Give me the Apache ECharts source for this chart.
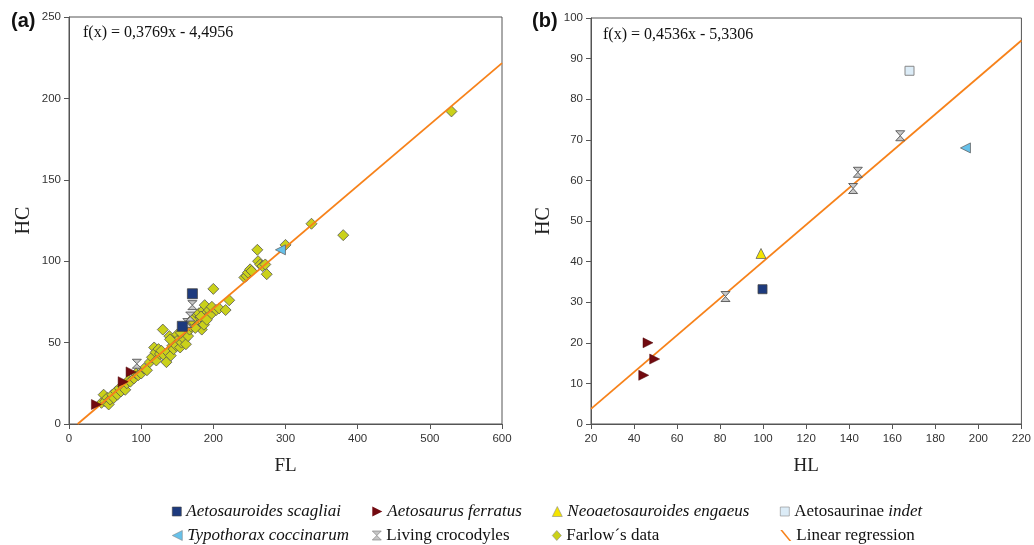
<!DOCTYPE html>
<html>
<head>
<meta charset="utf-8">
<script src="https://cdn.jsdelivr.net/npm/echarts@6/dist/echarts.min.js"></script>
<style>html,body{margin:0;padding:0;background:#fff}#c{width:1034px;height:545px}</style>
</head>
<body>
<div id="c"></div>
<script>
// ---- Panel (a): FL vs HC ----
const farlowFL = [45,48,50,53,55,57,60,62,65,67,70,72,75,78,80,83,85,90,93,96,100,104,108,112,115,118,120,121,124,126,128,130,132,135,137,139,141,143,145,147,149,150,152,154,156,158,160,162,163,165,167,169,172,174,176,178,180,182,184,185,186,188,190,192,194,196,198,200,204,208,217,222,243,246,248,251,253,261,262,265,268,272,274,300,336,380,530,140,155,170,175,183,187,191];
const farlowHC = [13,18,14,16,12,15,18,16,20,18,22,20,23,21,25,27,26,28,31,30,31,34,33,38,41,47,44,39,46,43,45,58,42,38,44,54,42,48,46,50,48,55,52,47,50,54,52,49,56,54,58,60,62,60,66,64,68,65,58,63,70,73,68,66,70,67,72,83,70,71,70,76,90,91,93,95,94,107,100,98,97,98,92,110,123,116,192,52,56,64,59,66,61,64];
const scagliaiA_FL = [157,171];
const scagliaiA_HC = [60,80];
const ferratusA_FL = [38,75,86];
const ferratusA_HC = [12,26,32];
const typothoraxA_FL = [293];
const typothoraxA_HC = [107];
const crocA_FL = [94,164,168,171];
const crocA_HC = [37,62,66,73];
const regA = [0.3769, -4.4956]; // slope, intercept
const xTicksA = [0,100,200,300,400,500,600];
const yTicksA = [0,50,100,150,200,250];

// ---- Panel (b): HL vs HC ----
const scagliaiB_HL = [99.7];
const scagliaiB_HC = [33.2];
const ferratusB_HL = [46.5,49.6,44.5];
const ferratusB_HC = [20,16,12];
const engaeusB_HL = [99];
const engaeusB_HC = [42];
const indetB_HL = [168];
const indetB_HC = [87];
const typothoraxB_HL = [194];
const typothoraxB_HC = [68];
const crocB_HL = [82.5,141.8,144,163.7];
const crocB_HC = [31.4,58,62,71];
const regB = [0.4536, -5.3306];
const xTicksB = [20,40,60,80,100,120,140,160,180,200,220];
const yTicksB = [0,10,20,30,40,50,60,70,80,90,100];

const zip = (a,b) => a.map((v,i)=>[v,b[i]]);

const SERIF = '"Liberation Serif", "DejaVu Serif", serif';
const SANS = '"Liberation Sans", Arial, sans-serif';

const N = {
  scag: 'Aetosauroides scagliai',
  ferr: 'Aetosaurus ferratus',
  enga: 'Neoaetosauroides engaeus',
  indet: 'Aetosaurinae indet',
  typo: 'Typothorax coccinarum',
  croc: 'Living crocodyles',
  farl: 'Farlow´s data',
  reg: 'Linear regression'
};
const SYM = {
  right: 'path://M0,0 L10,5 L0,10 Z',
  left: 'path://M10,0 L0,5 L10,10 Z',
  hour: 'path://M0,0 L10,0 L5,5 L10,10 L0,10 L5,5 Z',
  line: 'path://M0,0 L1.8,0 L10,10 L8.2,10 Z'
};
const ST = {
  scag: {color:'#1d3a7e', borderColor:'#444', borderWidth:0.8, opacity:1},
  ferr: {color:'#720a10', borderColor:'#500808', borderWidth:0.5, opacity:1},
  enga: {color:'#f4e400', borderColor:'#666', borderWidth:0.8, opacity:1},
  indet: {color:'#dcecf7', borderColor:'#888', borderWidth:1, opacity:1},
  typo: {color:'#66c1ea', borderColor:'#666', borderWidth:0.8, opacity:1},
  croc: {color:'#c6c6c6', borderColor:'#555', borderWidth:0.9, opacity:1},
  farl: {color:'#cad11a', borderColor:'#555', borderWidth:0.8, opacity:1}
};
const LEGB = {
  scag: '#444', ferr: 'transparent', enga: '#888', indet: '#888',
  typo: '#888', croc: '#777', farl: '#888', reg: 'transparent'
};

function axisX(idx, min, max, interval, name){
  return {
    gridIndex: idx, type:'value', min, max, interval, name,
    nameLocation:'middle', nameGap: 33,
    nameTextStyle:{fontFamily:SERIF, fontSize:19, color:'#222'},
    axisLine:{show:true, onZero:false, lineStyle:{color:'#555', width:1}},
    axisTick:{show:true, inside:false, length:5, lineStyle:{color:'#555'}},
    axisLabel:{fontFamily:SANS, fontSize:11.5, color:'#333', margin:9},
    splitLine:{show:false}
  };
}
function axisY(idx, min, max, interval, name, gap){
  return {
    gridIndex: idx, type:'value', min, max, interval, name,
    nameLocation:'middle', nameGap: gap,
    nameTextStyle:{fontFamily:SERIF, fontSize:20, color:'#222'},
    axisLine:{show:true, onZero:false, lineStyle:{color:'#555', width:1}},
    axisTick:{show:true, inside:false, length:5, lineStyle:{color:'#555'}},
    axisLabel:{fontFamily:SANS, fontSize:11.5, color:'#333', margin:8},
    splitLine:{show:false}
  };
}
function sc(name, key, sym, size, idx, data, z){
  return {type:'scatter', name, symbol:sym, symbolSize:size, xAxisIndex:idx, yAxisIndex:idx,
    data, itemStyle:ST[key], z: z||3, emphasis:{disabled:true}};
}
function regLine(idx, coef, x0, x1){
  const xs = Math.max(x0, -coef[1]/coef[0]);
  return {type:'line', name:N.reg, xAxisIndex:idx, yAxisIndex:idx, symbol:'none', z:2,
    lineStyle:{color:'#f7821a', width:1.8}, itemStyle:{color:'#f7821a'},
    data:[[xs, coef[0]*xs+coef[1]],[x1, coef[0]*x1+coef[1]]], emphasis:{disabled:true}};
}

function leg(key, icon, left, top, w, h, italicMode){
  const name = N[key];
  const base = {fontFamily:SERIF, fontSize:17, color:'#111'};
  const l = {
    data:[{name, icon}], left, top, padding:0, itemWidth:w, itemHeight:h, itemGap:0,
    selectedMode:false,
    itemStyle:{opacity:1, borderWidth:0.6, borderColor:LEGB[key]},
    lineStyle:{width:0},
    textStyle: Object.assign({}, base, italicMode==='i'?{fontStyle:'italic'}:{})
  };
  if (italicMode === 'mix'){
    l.formatter = () => '{r|Aetosaurinae} {i|indet}';
    l.textStyle.rich = {r:Object.assign({},base), i:Object.assign({fontStyle:'italic'},base)};
  }
  return l;
}

const option = {
  backgroundColor:'#fff',
  animation:false,
  grid:[
    {left:69, top:17, width:433, height:407, show:true, borderColor:'#555', borderWidth:1, backgroundColor:'transparent'},
    {left:591, top:18, width:432, height:406, show:true, borderColor:'#555', borderWidth:1, backgroundColor:'transparent'}
  ],
  xAxis:[axisX(0,0,600,100,'FL'), axisX(1,20,220,20,'HL')],
  yAxis:[axisY(0,0,250,50,'HC',35), axisY(1,0,100,10,'HC',37)],
  legend:[
    leg('scag', 'rect', 172, 503, 9, 9, 'i'),
    leg('ferr', SYM.right, 372, 503, 10, 10, 'i'),
    leg('enga', 'triangle', 552, 503, 10, 10, 'i'),
    leg('indet', 'rect', 780, 503, 9, 9, 'mix'),
    leg('typo', SYM.left, 172, 527, 10, 10, 'i'),
    leg('croc', SYM.hour, 372, 527, 9, 10, ''),
    leg('farl', 'diamond', 552, 527, 9, 10, ''),
    leg('reg', SYM.line, 780, 527, 11, 11, '')
  ],
  graphic:[
    {type:'text', left:11, top:11, style:{text:'(a)', font:'bold 20px "Liberation Sans", Arial, sans-serif', fill:'#111'}},
    {type:'text', left:532, top:11, style:{text:'(b)', font:'bold 20px "Liberation Sans", Arial, sans-serif', fill:'#111'}},
    {type:'text', left:83, top:25, style:{text:'f(x) = 0,3769x - 4,4956', font:'16px "Liberation Serif", serif', fill:'#111'}},
    {type:'text', left:603, top:27, style:{text:'f(x) = 0,4536x - 5,3306', font:'16px "Liberation Serif", serif', fill:'#111'}}
  ],
  series:[
    sc(N.farl,'farl','diamond',11,0,zip(farlowFL,farlowHC),1),
    regLine(0, regA, 0, 600),
    sc(N.croc,'croc',SYM.hour,9,0,zip(crocA_FL,crocA_HC)),
    sc(N.ferr,'ferr',SYM.right,10,0,zip(ferratusA_FL,ferratusA_HC)),
    sc(N.typo,'typo',SYM.left,10,0,zip(typothoraxA_FL,typothoraxA_HC)),
    sc(N.scag,'scag','rect',10,0,zip(scagliaiA_FL,scagliaiA_HC)),
    regLine(1, regB, 20, 220),
    sc(N.croc,'croc',SYM.hour,[9,10],1,zip(crocB_HL,crocB_HC)),
    sc(N.ferr,'ferr',SYM.right,10,1,zip(ferratusB_HL,ferratusB_HC)),
    sc(N.enga,'enga','triangle',10,1,zip(engaeusB_HL,engaeusB_HC)),
    sc(N.indet,'indet','rect',9,1,zip(indetB_HL,indetB_HC)),
    sc(N.typo,'typo',SYM.left,10,1,zip(typothoraxB_HL,typothoraxB_HC)),
    sc(N.scag,'scag','rect',9,1,zip(scagliaiB_HL,scagliaiB_HC))
  ]
};
const chart = echarts.init(document.getElementById('c'), null, {renderer:'canvas'});
chart.setOption(option);
</script>
</body>
</html>
